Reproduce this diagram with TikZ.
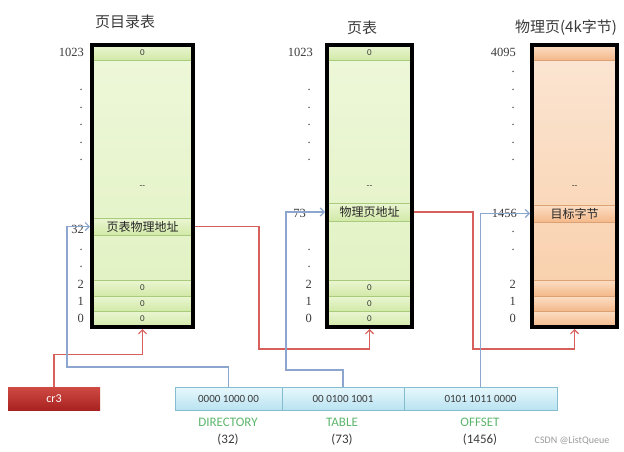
\documentclass[tikz,border=0pt]{standalone}
\usepackage{fontspec}
\setmainfont{Carlito}
\newfontfamily\cjk{Noto Sans CJK SC}
\newfontfamily\numfont{Liberation Serif}
\usepackage{xcolor}
\usetikzlibrary{arrows.meta, positioning}
\definecolor{grtop}{HTML}{EEF8DA}
\definecolor{grbot}{HTML}{E0F1C0}
\definecolor{grrowtop}{HTML}{EAF6D2}
\definecolor{grrowbot}{HTML}{D2E9A8}
\definecolor{grline}{HTML}{A8CB7C}
\definecolor{ortop}{HTML}{FBE6D4}
\definecolor{orbot}{HTML}{F9CDA6}
\definecolor{orrowtop}{HTML}{FCDEC4}
\definecolor{orrowbot}{HTML}{F4B98A}
\definecolor{orline}{HTML}{DCA274}
\definecolor{bittop}{HTML}{E8F8FD}
\definecolor{bitbot}{HTML}{B9E3F1}
\definecolor{bitline}{HTML}{86BCD0}
\definecolor{crtop}{HTML}{D04A44}
\definecolor{crbot}{HTML}{A82220}
\definecolor{linered}{HTML}{D5605C}
\definecolor{lineblue}{HTML}{8CA6CF}
\definecolor{fieldgreen}{HTML}{5DB56C}
\definecolor{txtgray}{HTML}{3A3A3A}
\tikzset{
  >=latex,
  % tabelle
  greenbg/.style={top color=grtop, bottom color=grbot, minimum width=#1, minimum height=282, inner sep=0pt, outer sep=0pt},
  orangebg/.style={top color=ortop, bottom color=orbot, minimum width=#1, minimum height=282, inner sep=0pt, outer sep=0pt},
  tabframe/.style={draw=black, line width=4pt, minimum width=#1, minimum height=282, inner sep=0pt},
  grow/.style={top color=grrowtop, bottom color=grrowbot, draw=grline, line width=0.6pt, minimum width=#1, inner sep=0pt, outer sep=0pt, text=txtgray, font=\fontsize{9}{9}\selectfont},
  orow/.style={top color=orrowtop, bottom color=orrowbot, draw=orline, line width=0.6pt, minimum width=#1, inner sep=0pt, outer sep=0pt, text=txtgray, font=\fontsize{9}{9}\selectfont},
  entry/.style={font=\cjk\fontsize{12}{12}\selectfont, text=black!85},
  midtxt/.style={font=\fontsize{9}{9}\selectfont, text=txtgray},
  % indici
  idx/.style={anchor=east, inner sep=0pt, text=txtgray, font=\numfont\fontsize{12.5}{12.5}\selectfont},
  tabtitle/.style={font=\cjk\fontsize{15}{15}\selectfont, text=txtgray},
  % registri
  cr3box/.style={top color=crtop, bottom color=crbot, minimum width=92, minimum height=23, text=white, font=\fontsize{12}{12}\selectfont},
  bitbox/.style={top color=bittop, bottom color=bitbot, draw=bitline, line width=0.6pt, minimum height=23, inner sep=0pt, outer sep=0pt, text=txtgray, font=\fontsize{11}{11}\selectfont},
  fieldname/.style={text=fieldgreen, font=\fontsize{13}{13}\selectfont},
  fieldval/.style={text=txtgray, font=\fontsize{13}{13}\selectfont},
  wmtext/.style={text=gray!80, font=\fontsize{10}{10}\selectfont},
  % collegamenti
  redarr/.style={-{Straight Barb[length=4pt,width=8pt]}, draw=linered, line width=1.2pt},
  bluearr/.style={-{Straight Barb[length=4pt,width=8pt]}, draw=lineblue, line width=1.2pt}
}
\begin{document}
\begin{tikzpicture}[x=1pt, y=-1pt]
  \useasboundingbox (0,0) rectangle (624,452);
  \node[tabtitle] (tdir) at (125,22) {页目录表};
  \node[tabtitle] (tpt) at (362,28) {页表};
  \node[tabtitle] (tphy) at (566,28) {物理页(4k字节)};

  \node[greenbg=101] (dirbg) at (142.5,186) {};
  \node[grow=101, minimum height=15] (dtop) at (142.5,52.5) {0};
  \node[grow=101, minimum height=17, entry] (dent) at (142.5,226.5) {页表物理地址};
  \node[grow=101, minimum height=16] (d2) at (142.5,288) {0};
  \node[grow=101, minimum height=15] (d1) at (142.5,303.5) {0};
  \node[grow=101, minimum height=16] (d0) at (142.5,319) {0};
  \node[midtxt] (dmid) at (142.5,187) {{-}{-}};
  \node[tabframe=101] (dir) at (142.5,186) {};

  \node[greenbg=85] (ptbg) at (369.5,186) {};
  \node[grow=85, minimum height=15] (ptop) at (369.5,52.5) {0};
  \node[grow=85, minimum height=18, entry] (pent) at (369.5,212) {物理页地址};
  \node[grow=85, minimum height=16] (p2) at (369.5,288) {0};
  \node[grow=85, minimum height=15] (p1) at (369.5,303.5) {0};
  \node[grow=85, minimum height=16] (p0) at (369.5,319) {0};
  \node[midtxt] (pmid) at (369.5,187) {{-}{-}};
  \node[tabframe=85] (pt) at (369.5,186) {};

  \node[orangebg=85] (phybg) at (574.5,186) {};
  \node[orow=85, minimum height=15] (phtop) at (574.5,52.5) {};
  \node[orow=85, minimum height=17, entry] (phent) at (574.5,213.5) {目标字节};
  \node[orow=85, minimum height=16] (ph2) at (574.5,288) {};
  \node[orow=85, minimum height=15] (ph1) at (574.5,303.5) {};
  \node[orow=85, minimum height=16] (ph0) at (574.5,319) {};
  \node[midtxt] (phmid) at (574.5,187) {{-}{-}};
  \node[tabframe=85] (phy) at (574.5,186) {};

  \node[idx] (dl1023) at (84,52) {1023};
  \foreach \y in {90,108,125,143,160,250,267}
    \node[idx] (dd\y) at (83,\y) {.};
  \node[idx] (dl32) at (84,229) {32};
  \node[idx] (dl2) at (84,284) {2};
  \node[idx] (dl1) at (84,301) {1};
  \node[idx] (dl0) at (84,318) {0};

  \node[idx] (pl1023) at (313,52) {1023};
  \foreach \y in {90,108,125,143,160,250,267}
    \node[idx] (pd\y) at (311,\y) {.};
  \node[idx] (pl73) at (306,213) {73};
  \node[idx] (pl2) at (312,284) {2};
  \node[idx] (pl1) at (312,301) {1};
  \node[idx] (pl0) at (312,318) {0};

  \node[idx] (hl4095) at (516,52) {4095};
  \foreach \y in {72,90,108,125,143,160,232,250}
    \node[idx] (hd\y) at (515,\y) {.};
  \node[idx] (hl1456) at (517,213) {1456};
  \node[idx] (hl2) at (516,284) {2};
  \node[idx] (hl1) at (516,301) {1};
  \node[idx] (hl0) at (516,318) {0};

  \node[cr3box] (cr3) at (54,398.5) {cr3};
  \node[bitbox, minimum width=107] (bdir) at (228.5,398.5) {0000 1000 00};
  \node[bitbox, minimum width=122, right=0pt of bdir] (btab) {00 0100 1001};
  \node[bitbox, minimum width=153, right=0pt of btab] (boff) {0101 1011 0000};
  \node[fieldname] (ndir) at (228,422) {DIRECTORY};
  \node[fieldval] (vdir) at (228,440) {(32)};
  \node[fieldname] (ntab) at (342,422) {TABLE};
  \node[fieldval] (vtab) at (342,440) {(73)};
  \node[fieldname] (noff) at (480,422) {OFFSET};
  \node[fieldval] (voff) at (480,440) {(1456)};
  \node[wmtext] (wm) at (572,441) {CSDN @ListQueue};

  \coordinate (b1) at (67,367);
  \coordinate (b2) at (286,370);
  \coordinate (r2) at (259,349);
  \coordinate (r3) at (473,349);
  \draw[redarr] (cr3.north) -- ++(0,-32) -| (dir.south);
  \draw[bluearr] (bdir.north) |- (b1) |- (dent -| dir.west);
  \draw[redarr] (dent -| dir.east) -| (r2) -| (pt.south);
  \draw[bluearr] (btab.north) |- (b2) |- (pent -| pt.west);
  \draw[redarr] (pent -| pt.east) -| (r3) -| (phy.south);
  \draw[bluearr] (boff.north) |- (phent -| phy.west);
\end{tikzpicture}
\end{document}
